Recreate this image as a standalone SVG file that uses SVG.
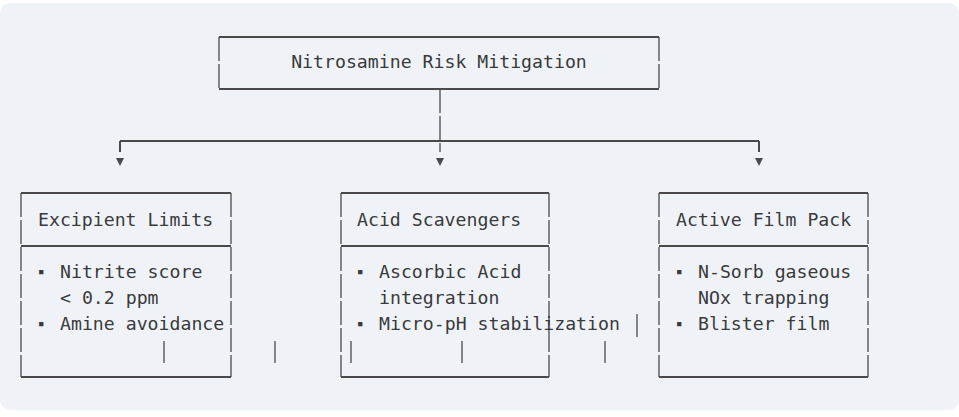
<svg xmlns="http://www.w3.org/2000/svg" width="959" height="417" viewBox="0 0 959 417">
<style>
.t{font-family:"DejaVu Sans Mono","Liberation Mono",monospace;font-size:18.2px;fill:#3a3a3a;white-space:pre}
.b{font-size:11px}
.h{stroke:#4a4a4a;stroke-width:2;fill:none}
.v{stroke:#4a4a4a;stroke-width:1.3;fill:none;stroke-dasharray:24 3}
</style>
<rect x="0" y="3" width="959" height="407" rx="10" fill="#eff3f8"/>
<g id="root">
<path class="h" d="M219 37H659M219 89H659"/>
<path class="v" d="M219 37V89M659 37V89"/>
<text class="t" x="439" y="68" text-anchor="middle">Nitrosamine Risk Mitigation</text>
</g>
<g id="connectors">
<path class="v" d="M440 89V152"/>
<path class="h" d="M120 141H759M120 141V152M759 141V152"/>
<path d="M116 158h8l-4 8z M436 158h8l-4 8z M755 158h8l-4 8z" fill="#4a4a4a"/>
<path class="v" d="M164 341V363M275 341V363M351 341V363M462 341V363M605 341V363M637 314V337"/>
</g>
<g id="excipient">
<path class="h" d="M21 193H231M21 246H231M21 377H231"/>
<path class="v" d="M21 193V377M231 193V377"/>
<text class="t" x="38" y="226">Excipient Limits</text>
<text class="t b" x="38" y="275">▪</text><text class="t" x="60" y="278">Nitrite score</text>
<text class="t" x="60" y="304">&lt; 0.2 ppm</text>
<text class="t b" x="38" y="327">▪</text><text class="t" x="60" y="330">Amine avoidance</text>
</g>
<g id="acid">
<path class="h" d="M341 193H549M341 246H549M341 377H549"/>
<path class="v" d="M341 193V377M549 193V377"/>
<text class="t" x="357" y="226">Acid Scavengers</text>
<text class="t b" x="357" y="275">▪</text><text class="t" x="379" y="278">Ascorbic Acid</text>
<text class="t" x="379" y="304">integration</text>
<text class="t b" x="357" y="327">▪</text><text class="t" x="379" y="330">Micro-pH stabilization</text>
</g>
<g id="film">
<path class="h" d="M659 193H868M659 246H868M659 377H868"/>
<path class="v" d="M659 193V377M868 193V377"/>
<text class="t" x="676" y="226">Active Film Pack</text>
<text class="t b" x="676" y="275">▪</text><text class="t" x="698" y="278">N-Sorb gaseous</text>
<text class="t" x="698" y="304">NOx trapping</text>
<text class="t b" x="676" y="327">▪</text><text class="t" x="698" y="330">Blister film</text>
</g>
</svg>
